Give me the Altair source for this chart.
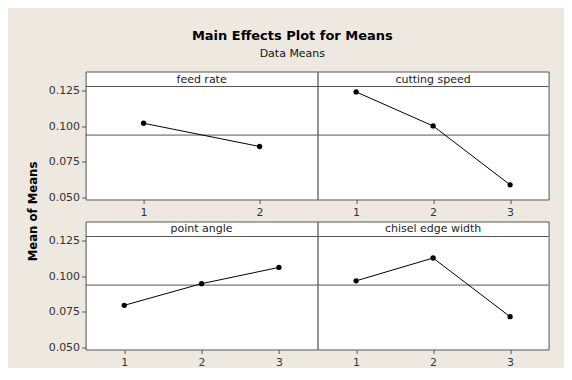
import altair as alt
import pandas as pd

# ---- data ----
factors = ["feed rate", "cutting speed", "point angle", "chisel edge width"]
feed_levels = [1, 2]
feed_means = [0.1021, 0.0858]
speed_levels = [1, 2, 3]
speed_means = [0.1241, 0.1002, 0.0589]
angle_levels = [1, 2, 3]
angle_means = [0.0796, 0.0948, 0.1062]
chisel_levels = [1, 2, 3]
chisel_means = [0.0968, 0.1128, 0.0716]
grand_mean = [0.0938]
y_ticks = [0.050, 0.075, 0.100, 0.125]
y_domain = [0.0486, 0.1279]

FONT = "DejaVu Sans"
FRAME = "#555555"
BG = "#EEE9E0"
STRIP_H = 15
DATA_H = 113
PANEL_H = STRIP_H + DATA_H


def panel(name, levels, means, width, left, ytitle=None):
    df = pd.DataFrame({"level": levels, "mean": means})
    gdf = pd.DataFrame({"mean": grand_mean})
    xenc = alt.X(
        "level:O",
        scale=alt.Scale(type="point", padding=0.5),
        axis=alt.Axis(title=None, labelAngle=0, domain=False, tickSize=4,
                      labelPadding=3, tickColor=FRAME, labelColor="#333333",
                      labelFont=FONT, labelFontSize=11),
    )
    common = dict(values=y_ticks, format=".3f", domain=False, tickSize=4,
                  labelPadding=2, tickColor=FRAME, labelColor="#333333",
                  labelFont=FONT, labelFontSize=11, grid=False)
    if left and ytitle:
        yaxis = alt.Axis(title=ytitle, titleFont=FONT, titleFontSize=11.7,
                         titleFontWeight="bold", titleColor="black",
                         titleAngle=270, titleAlign="center",
                         titleBaseline="alphabetic", titleX=-49, titleY=139.5,
                         **common)
    elif left:
        yaxis = alt.Axis(title=None, **common)
    else:
        yaxis = None
    yscale = alt.Scale(domain=y_domain, nice=False, zero=False,
                       range=[PANEL_H, STRIP_H])
    yenc = alt.Y("mean:Q", scale=yscale, axis=yaxis)

    rule = alt.Chart(gdf).mark_rule(color=FRAME, strokeWidth=1).encode(y=yenc)
    line = alt.Chart(df).mark_line(color="black", strokeWidth=1).encode(x=xenc, y=yenc)
    pts = alt.Chart(df).mark_circle(color="black", size=28, opacity=1).encode(x=xenc, y=yenc)
    strip_line = alt.Chart(gdf).mark_rule(color=FRAME, strokeWidth=1).encode(
        x=alt.value(0), x2=alt.value(width), y=alt.value(STRIP_H))
    strip_text = (
        alt.Chart(pd.DataFrame({"f": [name]}))
        .mark_text(font=FONT, fontSize=11, color="#222222", baseline="middle")
        .encode(text="f:N", y=alt.value(STRIP_H / 2 + 0.5))
    )
    return alt.layer(rule, line, pts, strip_line, strip_text).properties(
        width=width, height=PANEL_H)


chart = (
    alt.concat(
        panel(factors[0], feed_levels, feed_means, 232, True, "Mean of Means"),
        panel(factors[1], speed_levels, speed_means, 231, False),
        panel(factors[2], angle_levels, angle_means, 232, True),
        panel(factors[3], chisel_levels, chisel_means, 231, False),
        columns=2,
        spacing={"row": 22, "column": 0},
        bounds="flush",
    )
    .properties(
        title=alt.Title(
            "Main Effects Plot for Means",
            subtitle="Data Means",
            anchor="middle",
            frame="bounds",
            dx=4,
            font=FONT,
            fontSize=13,
            fontWeight="bold",
            color="black",
            subtitleFont=FONT,
            subtitleFontSize=11,
            subtitleColor="#111111",
            subtitlePadding=5,
            offset=12,
        ),
        padding={"left": 18.6, "top": 21.5, "right": 14, "bottom": -1},
        background=BG,
    )
    .configure_view(stroke=FRAME, strokeWidth=1, fill="white")
)

chart.save("out.html", embed_options={"renderer": "svg", "actions": False})
